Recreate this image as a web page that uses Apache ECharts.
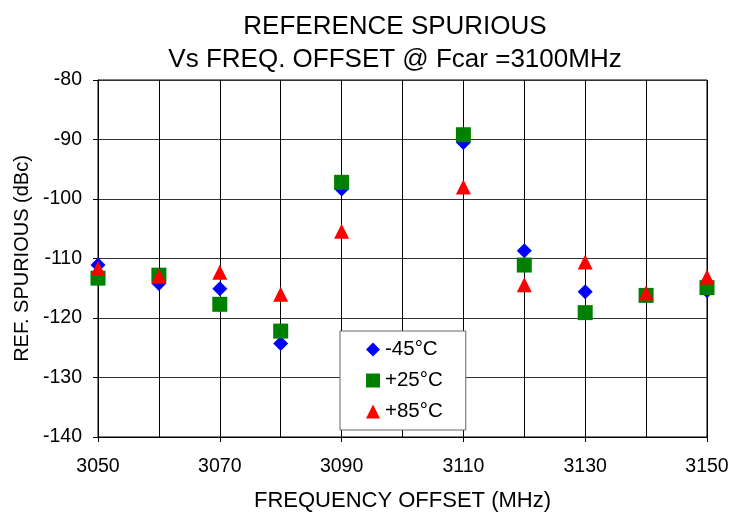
<!DOCTYPE html>
<html>
<head>
<meta charset="utf-8">
<script src="https://cdn.jsdelivr.net/npm/echarts@6/dist/echarts.min.js"></script>
<style>
  html, body { margin: 0; padding: 0; background: #fff; }
  #chart { width: 744px; height: 517px; }
</style>
</head>
<body>
<div id="chart"></div>
<script>
// frequency offsets (MHz)
var freqs = [3050, 3060, 3070, 3080, 3090, 3110, 3120, 3130, 3140, 3150]
// labelled x ticks
var xTickLabels = [3050, 3070, 3090, 3110, 3130, 3150]
// spurious level (dBc) per temperature
var minus45 = [-111.1, -114.2, -115.1, -124.3, -98.3, -90.5, -108.7, -115.6, -116.0, -115.4]
var plus25 = [-113.3, -112.8, -117.7, -122.2, -97.2, -89.2, -111.1, -119.1, -116.2, -114.9]
var plus85 = [-111.7, -113.0, -112.3, -116.0, -105.4, -98.0, -114.4, -110.6, -115.8, -113.1]

var font = 'Liberation Sans, Arial, Helvetica, sans-serif'

function pairs(vals) {
  return freqs.map(function (f, i) { return [f, vals[i]] })
}

var chart = echarts.init(document.getElementById('chart'))
chart.setOption({
  animation: false,
  title: {
    text: 'REFERENCE SPURIOUS\nVs FREQ. OFFSET @ Fcar =3100MHz',
    left: 390,
    textAlign: 'center',
    top: 5,
    textStyle: { fontFamily: font, fontWeight: 'normal', fontSize: 26, color: '#000', lineHeight: 33 }
  },
  grid: { left: 98, right: 37, top: 80, bottom: 80, show: true, borderColor: '#000', borderWidth: 1 },
  legend: {
    orient: 'vertical',
    left: 340,
    top: 331,
    padding: [8, 23, 8, 26],
    itemGap: 10,
    itemWidth: 14,
    itemHeight: 14,
    backgroundColor: '#fff',
    borderColor: '#666',
    borderWidth: 1,
    textStyle: { fontFamily: font, fontSize: 20.5, color: '#000' },
    data: [
      { name: '-45°C', icon: 'diamond' },
      { name: '+25°C', icon: 'rect' },
      { name: '+85°C', icon: 'triangle' }
    ]
  },
  xAxis: [
    {
      type: 'value',
      min: 3050,
      max: 3150,
      interval: 10,
      name: 'FREQUENCY OFFSET (MHz)',
      nameLocation: 'middle',
      nameGap: 53,
      nameTextStyle: { fontFamily: font, fontSize: 22, color: '#000' },
      axisLine: { lineStyle: { color: '#000' } },
      axisTick: { show: true, length: 5, customValues: xTickLabels, lineStyle: { color: '#000' } },
      axisLabel: {
        fontFamily: font, fontSize: 19.5, color: '#000', margin: 20,
        customValues: xTickLabels,
        formatter: function (v) { return String(v) }
      },
      splitLine: { show: false }
    },
    {
      // gridlines every 10 MHz
      type: 'value',
      position: 'bottom',
      min: 3050,
      max: 3150,
      interval: 10,
      axisLine: { show: false },
      axisTick: { show: false },
      axisLabel: { show: false },
      splitLine: { show: true, lineStyle: { color: '#000', width: 1 } }
    }
  ],
  yAxis: {
    type: 'value',
    min: -140,
    max: -80,
    interval: 10,
    name: 'REF. SPURIOUS (dBc)',
    nameLocation: 'middle',
    nameGap: 64,
    nameTextStyle: { fontFamily: font, fontSize: 20, color: '#000' },
    axisLine: { show: true, lineStyle: { color: '#000' } },
    axisTick: { show: true, length: 5, inside: false, lineStyle: { color: '#000' } },
    axisLabel: { fontFamily: font, fontSize: 19.5, color: '#000', margin: 16 },
    splitLine: { show: true, lineStyle: { color: '#333', width: 1 } }
  },
  series: [
    {
      name: '-45°C', type: 'scatter', symbol: 'diamond', symbolSize: 15,
      itemStyle: { color: '#0000ff', opacity: 1 }, data: pairs(minus45)
    },
    {
      name: '+25°C', type: 'scatter', symbol: 'rect', symbolSize: 15,
      itemStyle: { color: '#008000', opacity: 1 }, data: pairs(plus25)
    },
    {
      name: '+85°C', type: 'scatter', symbol: 'triangle', symbolSize: 15,
      itemStyle: { color: '#ff0000', opacity: 1 }, data: pairs(plus85)
    }
  ]
})
</script>
</body>
</html>
